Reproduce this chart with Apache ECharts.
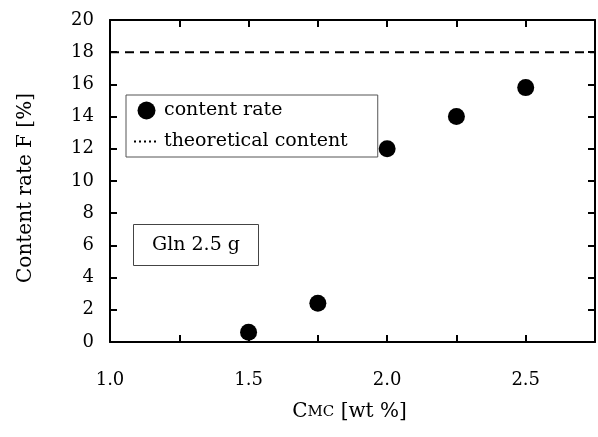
<!DOCTYPE html>
<html>
<head>
<meta charset="utf-8">
<script src="https://cdn.jsdelivr.net/npm/echarts@6/dist/echarts.min.js"></script>
<style>
  html, body { margin: 0; padding: 0; background: #fff; }
  #chart { width: 598px; height: 437px; }
</style>
</head>
<body>
<div id="chart"></div>
<script>
  // CMC concentration [wt%] and content rate F [%]
  let cmc = [1.5, 1.75, 2.0, 2.25, 2.5]
  let contentRate = [0.6, 2.4, 12.0, 14.0, 15.8]
  let theoreticalX = [1.0, 2.75]
  let theoreticalY = [18, 18]
  let xLabels = ['1.0', '1.5', '2.0', '2.5']

  let font = 'DejaVu Serif'
  let chart = echarts.init(document.getElementById('chart'))

  let baseX = {
    type: 'value',
    min: 1.0,
    max: 2.75,
    interval: 0.25,
    axisLine: { show: true, onZero: false, lineStyle: { color: '#000', width: 2 } },
    axisTick: { show: true, inside: true, length: 7, lineStyle: { color: '#000', width: 2 } },
    splitLine: { show: false }
  }
  let baseY = {
    type: 'value',
    min: 0,
    max: 20,
    interval: 2,
    axisLine: { show: true, onZero: false, lineStyle: { color: '#000', width: 2 } },
    axisTick: { show: true, inside: true, length: 7, lineStyle: { color: '#000', width: 2 } },
    splitLine: { show: false }
  }

  let option = {
    animation: false,
    textStyle: { fontFamily: font, color: '#000' },
    grid: { left: 110, top: 20, right: 2, bottom: 95 },
    title: {
      text: 'Gln 2.5 g',
      left: 133,
      top: 224,
      padding: [10, 19, 10, 19],
      borderColor: '#444',
      borderWidth: 1,
      textStyle: { fontFamily: font, fontSize: 19, fontWeight: 'normal', color: '#000', lineHeight: 22 }
    },
    legend: {
      orient: 'vertical',
      left: 126,
      top: 95,
      padding: [6, 30, 6, 7],
      itemWidth: 25,
      itemHeight: 18,
      itemGap: 12,
      borderColor: '#555',
      borderWidth: 1,
      textStyle: { fontFamily: font, fontSize: 19, color: '#000' },
      data: [
        { name: 'content rate', icon: 'circle', itemStyle: { color: '#000', opacity: 1 } },
        {
          name: 'theoretical content',
          itemStyle: { opacity: 0 },
          lineStyle: { type: [2, 3], width: 2, color: '#000' }
        }
      ]
    },
    xAxis: [
      Object.assign({}, baseX, {
        position: 'bottom',
        name: '{big|C}{small|MC} [wt %]',
        nameLocation: 'middle',
        nameGap: 60,
        nameTextStyle: {
          padding: [0, 6, 0, 0],
          rich: {
            big: { fontFamily: font, fontSize: 20, color: '#000' },
            small: { fontFamily: font, fontSize: 15, color: '#000' }
          },
          fontFamily: font,
          fontSize: 20,
          color: '#000'
        },
        axisLabel: {
          margin: 29,
          fontFamily: font,
          fontSize: 18,
          color: '#000',
          formatter: v => {
            let s = v.toFixed(1)
            return xLabels.indexOf(s) >= 0 && Math.abs(v * 2 - Math.round(v * 2)) < 1e-6 ? s : ''
          }
        }
      }),
      Object.assign({}, baseX, { position: 'top', axisLabel: { show: false } })
    ],
    yAxis: [
      Object.assign({}, baseY, {
        position: 'left',
        name: 'Content rate F [%]',
        nameLocation: 'middle',
        nameGap: 74,
        nameTextStyle: { fontFamily: font, fontSize: 20, color: '#000', padding: [0, 14, 0, 0] },
        axisLabel: { margin: 16, fontFamily: font, fontSize: 18, color: '#000' }
      }),
      Object.assign({}, baseY, { position: 'right', axisLabel: { show: false } })
    ],
    series: [
      {
        name: 'content rate',
        type: 'scatter',
        symbol: 'circle',
        symbolSize: 17,
        itemStyle: { color: '#000', opacity: 1 },
        data: cmc.map((x, i) => [x, contentRate[i]]),
        z: 3
      },
      {
        name: 'theoretical content',
        type: 'line',
        symbol: 'none',
        lineStyle: { type: [9, 6], width: 2, color: '#000' },
        itemStyle: { color: '#000' },
        data: theoreticalX.map((x, i) => [x, theoreticalY[i]])
      }
    ]
  }

  chart.setOption(option)
</script>
</body>
</html>
